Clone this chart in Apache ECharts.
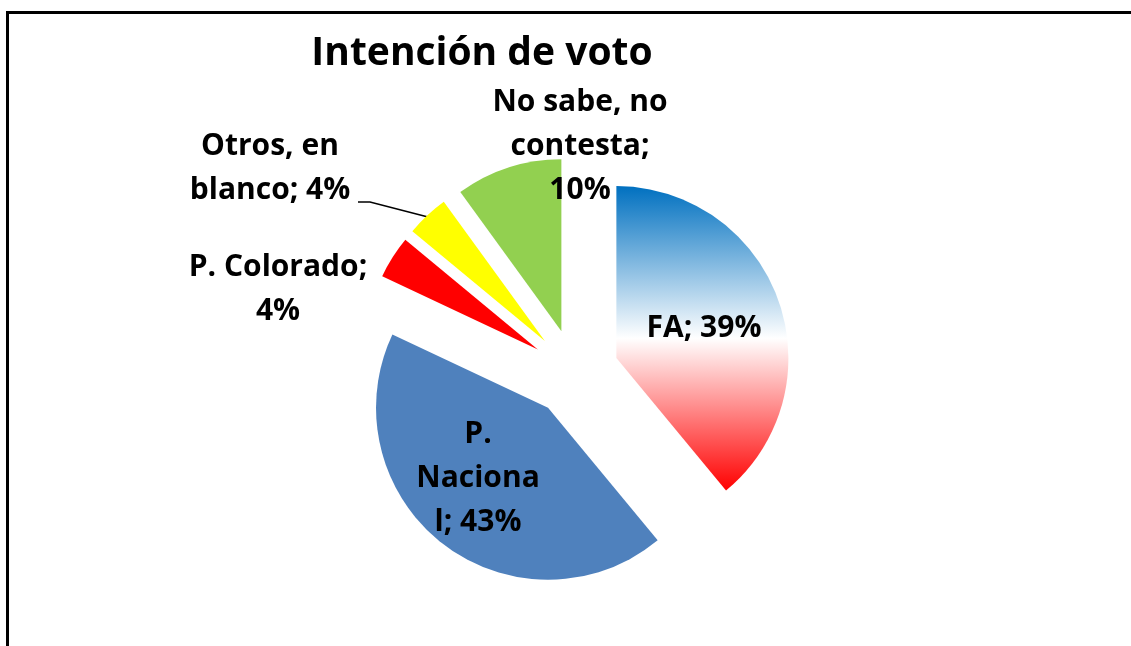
<!DOCTYPE html>
<html lang="es">
<head>
<meta charset="UTF-8" />
<title>Intención de voto</title>
<script src="https://cdn.jsdelivr.net/npm/echarts@6/dist/echarts.min.js"></script>
<style>
  body { margin: 0; background: #fff; }
</style>
</head>
<body>
<div id="main" style="width: 1131px; height: 646px"></div>
<script type="text/javascript">
  // data
  const categories = ["FA", "P. Nacional", "P. Colorado", "Otros, en blanco", "No sabe, no contesta"];
  const values = [39, 43, 4, 4, 10];
  // label texts as they wrap in the original
  const labelTexts = ["FA; 39%", "P.\nNaciona\nl; 43%", "P. Colorado;\n4%", "Otros, en\nblanco; 4%", "No sabe, no\ncontesta;\n10%"];

  const colors = [
    new echarts.graphic.LinearGradient(0, 0, 0, 1, [
      { offset: 0, color: "#0070C0" },
      { offset: 0.5, color: "#FFFFFF" },
      { offset: 1, color: "#FF0000" }
    ]),
    "#4F81BD",
    "#FF0000",
    "#FFFF00",
    "#92D050"
  ];
  // centre of each label block
  const labelPos = [[704, 328], [478, 478], [278, 289], [270, 168], [580, 146]];

  const pieCenter = [575, 373];
  const explode = 44;
  const total = values.reduce((a, b) => a + b, 0);

  let myChart = echarts.init(document.getElementById("main"));

  // one series per slice so every slice can be pulled out on its own
  let series = [];
  let cum = 0;
  values.forEach((v, i) => {
    let mid = (90 - (cum + v / 2) / total * 360) * Math.PI / 180;
    cum += v;
    let c = [pieCenter[0] + explode * Math.cos(mid), pieCenter[1] - explode * Math.sin(mid)];
    series.push({
      type: "pie",
      name: categories[i],
      center: c,
      radius: 172,
      startAngle: 90,
      avoidLabelOverlap: false,
      emphasis: { disabled: true },
      label: {
        position: "inside",
        color: "#000",
        fontFamily: "Open Sans",
        fontWeight: "bold",
        fontSize: 30,
        lineHeight: 44,
        align: "center"
      },
      labelLine: { show: false },
      labelLayout: function (params) {
        let p = labelPos[params.dataIndex];
        return { x: p[0], y: p[1], align: "center", verticalAlign: "middle" };
      },
      data: categories.map((name, j) => ({
        name: name,
        value: values[j],
        itemStyle: { color: j === i ? colors[j] : "rgba(0,0,0,0)" },
        label: { show: j === i, formatter: labelTexts[j] }
      }))
    });
  });

  let options = {
    backgroundColor: "#fff",
    animation: false,
    graphic: [
      {
        type: "rect",
        shape: { x: 7.5, y: 12.5, width: 1300, height: 800 },
        style: { fill: "none", stroke: "#000", lineWidth: 3 },
        silent: true
      },
      {
        type: "text",
        x: 482,
        y: 54,
        style: {
          text: "Intención de voto",
          fontFamily: "Open Sans",
          fontWeight: "bold",
          fontSize: 39,
          fill: "#000",
          align: "center",
          verticalAlign: "middle"
        }
      },
      {
        // leader line of "Otros, en blanco"
        type: "polyline",
        shape: { points: [[358, 202], [370, 202], [428, 217]] },
        style: { stroke: "#000", lineWidth: 1.5, fill: "none" },
        silent: true
      }
    ],
    series: series
  };

  myChart.setOption(options);
</script>
</body>
</html>
